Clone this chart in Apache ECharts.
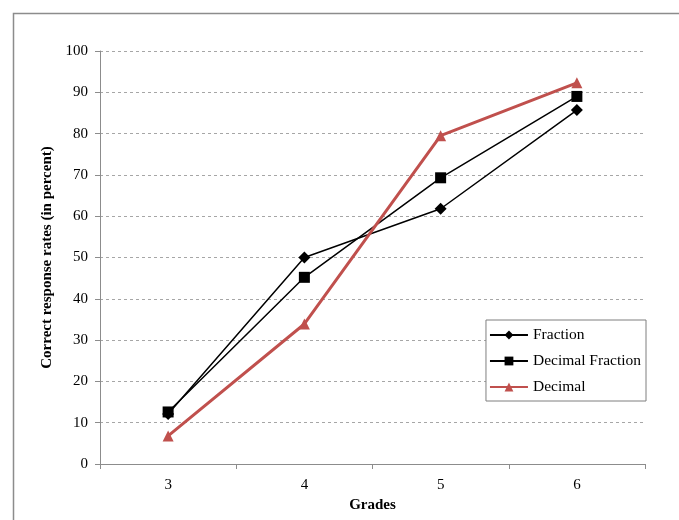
<!DOCTYPE html>
<html>
<head>
<meta charset="utf-8">
<script src="https://cdn.jsdelivr.net/npm/echarts@6/dist/echarts.min.js"></script>
<style>html,body{margin:0;padding:0;background:#fff}#c{width:679px;height:520px}</style>
</head>
<body>
<div id="c"></div>
<script>
var categories = ['3', '4', '5', '6'];
var fraction = [12.1, 50.0, 61.8, 85.7];
var decimalFraction = [12.6, 45.2, 69.3, 89.0];
var decimal = [6.8, 33.9, 79.5, 92.3];
var yTicks = [0, 10, 20, 30, 40, 50, 60, 70, 80, 90, 100];

var serif = '"Liberation Serif","Times New Roman",serif';
var chart = echarts.init(document.getElementById('c'));
chart.setOption({
  animation: false,
  backgroundColor: '#fff',
  graphic: [{
    type: 'rect', left: 11, top: 11, shape: {width: 720, height: 560},
    style: {fill: 'none', stroke: '#8c8c8c', lineWidth: 1.5}, silent: true
  }],
  grid: {left: 100, right: 34, top: 51, bottom: 56},
  legend: {
    orient: 'vertical', right: 33, top: 320,
    backgroundColor: '#fff', borderColor: '#7f7f7f', borderWidth: 1,
    padding: [7, 5, 6, 3], itemGap: 10, itemWidth: 38, itemHeight: 11,
    textStyle: {fontFamily: serif, fontSize: 15.5, color: '#000'},
    data: ['Fraction', 'Decimal Fraction', 'Decimal']
  },
  xAxis: {
    type: 'category', data: categories, boundaryGap: true,
    name: 'Grades', nameLocation: 'middle', nameGap: 34,
    nameTextStyle: {fontFamily: serif, fontSize: 15, fontWeight: 'bold', color: '#000'},
    axisLine: {lineStyle: {color: '#8c8c8c', width: 1}},
    axisTick: {show: true, length: 5, lineStyle: {color: '#8c8c8c'}},
    axisLabel: {fontFamily: serif, fontSize: 15, color: '#000', margin: 14},
    splitLine: {show: false}
  },
  yAxis: {
    type: 'value', min: 0, max: 100, interval: 10,
    name: 'Correct response rates (in percent)', nameLocation: 'middle', nameGap: 45,
    nameTextStyle: {fontFamily: serif, fontSize: 15, fontWeight: 'bold', color: '#000'},
    axisLine: {show: true, lineStyle: {color: '#8c8c8c', width: 1}},
    axisTick: {show: true, length: 5, lineStyle: {color: '#8c8c8c'}},
    axisLabel: {fontFamily: serif, fontSize: 15, color: '#000', margin: 12,
      formatter: function (v) { return yTicks.indexOf(v) >= 0 ? String(v) : ''; }},
    splitLine: {show: true, lineStyle: {color: '#a6a6a6', type: [3, 3], width: 1}}
  },
  series: [
    {
      name: 'Fraction', type: 'line', data: fraction,
      symbol: 'diamond', symbolSize: 12,
      lineStyle: {color: '#000', width: 1.5},
      itemStyle: {color: '#000'}
    },
    {
      name: 'Decimal Fraction', type: 'line', data: decimalFraction,
      symbol: 'rect', symbolSize: 11,
      lineStyle: {color: '#000', width: 1.5},
      itemStyle: {color: '#000'}
    },
    {
      name: 'Decimal', type: 'line', data: decimal,
      symbol: 'triangle', symbolSize: 11,
      lineStyle: {color: '#C0504D', width: 3},
      itemStyle: {color: '#C0504D'}
    }
  ]
});
</script>
</body>
</html>
